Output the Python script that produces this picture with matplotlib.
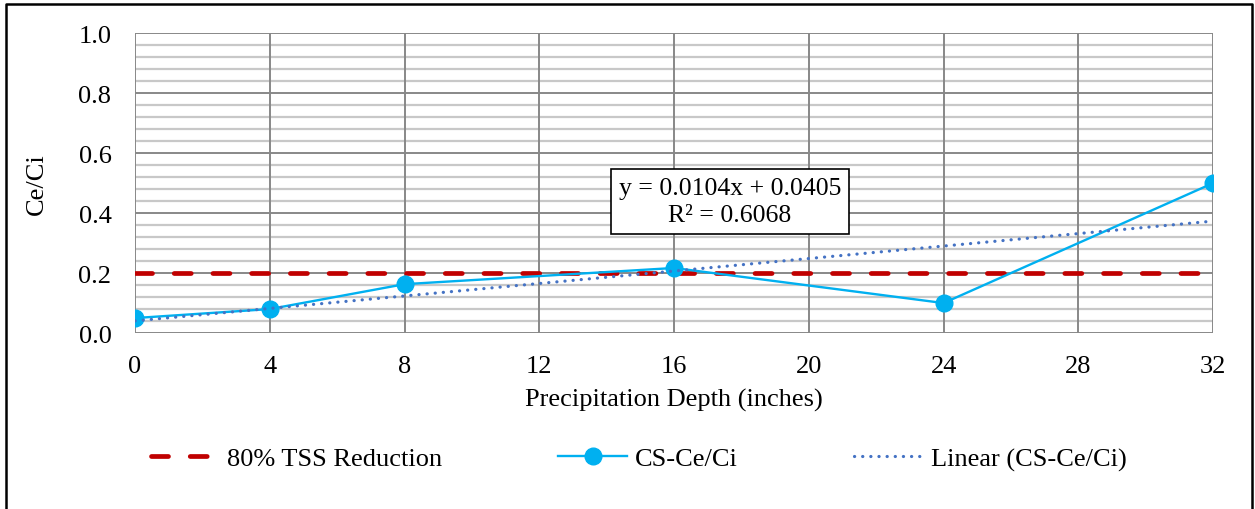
import matplotlib.pyplot as plt
from matplotlib.lines import Line2D

plt.rcParams['font.family'] = ['Liberation Serif', 'DejaVu Serif']

# data
depth = [0, 4, 8, 16, 24, 32]
ce_ci = [0.05, 0.08, 0.163, 0.217, 0.10, 0.50]
tss_target = [0.2, 0.2, 0.2, 0.2, 0.2, 0.2]
slope = 0.0104
intercept = 0.0405
r2 = 0.6068
x_ticks = [0, 4, 8, 12, 16, 20, 24, 28, 32]
y_ticks = [0.0, 0.2, 0.4, 0.6, 0.8, 1.0]

fig = plt.figure(figsize=(12.55, 5.10), dpi=100)
ax = fig.add_axes([0.1076, 0.345, 0.859, 0.588])

# grid
for i in range(26):
    y = i * 0.04
    if i % 5:
        ax.axhline(y, color='#c8c8c8', lw=1.6, zorder=0)
    else:
        ax.axhline(y, color='#888888', lw=1.4, zorder=0)
for x in x_ticks:
    ax.axvline(x, color='#888888', lw=1.4, zorder=0)

ax.plot(depth, tss_target, color='#C00000', lw=3.4, dashes=(3.6, 4.6),
        dash_capstyle='round', label='80% TSS Reduction', zorder=2)
ax.plot(depth, ce_ci, color='#00B0F0', lw=1.7, marker='o', markersize=12,
        label='CS-Ce/Ci', zorder=3)
tx = [depth[0], depth[-1]]
ax.plot(tx, [slope * v + intercept for v in tx], color='#4472C4', lw=2.3,
        linestyle=(0, (0.05, 2.5)), dash_capstyle='round',
        label='Linear (CS-Ce/Ci)', zorder=4)

ax.text(17.66, 0.438, f'y = {slope}x + {intercept}\nR\u00b2 = {r2}', fontsize=18.5,
        ha='center', va='center', linespacing=1.3, zorder=5,
        bbox=dict(boxstyle='square,pad=0.32', fc='white', ec='black', lw=1.2))

ax.set_xlim(0, 32)
ax.set_ylim(0, 1.0)
ax.set_xticks(x_ticks)
ax.set_yticks(y_ticks)
ax.set_yticklabels([f'{v:.1f}' for v in y_ticks])
ax.tick_params(axis='y', length=0, labelsize=19, pad=17)
ax.tick_params(axis='x', length=0, labelsize=19, pad=16)
for s in ax.spines.values():
    s.set_visible(False)
ax.set_xlabel('Precipitation Depth (inches)', fontsize=19, labelpad=8)
ax.set_ylabel('Ce/Ci', fontsize=19, labelpad=22)

ax.legend(loc='upper center', bbox_to_anchor=(0.467, -0.3), ncol=3, frameon=False,
          fontsize=19, handlelength=2.6, columnspacing=4.4, handletextpad=0.3)

# outer frame
fig.add_artist(Line2D([0.005, 0.005, 0.9975, 0.9975], [0.0, 0.99, 0.99, 0.0],
                      transform=fig.transFigure, color='black', lw=1.8))

fig.savefig('out.png', dpi=100)
